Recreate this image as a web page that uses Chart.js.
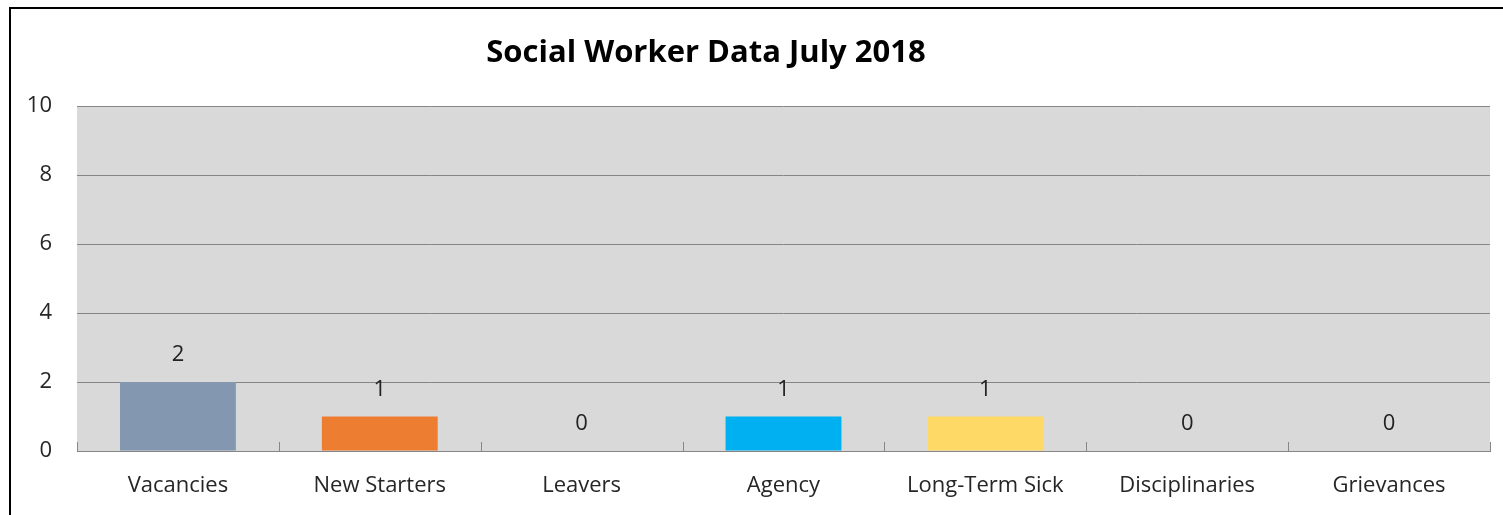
<!DOCTYPE html>
<html>
<head>
<meta charset="utf-8">
<script src="https://cdn.jsdelivr.net/npm/chart.js@4"></script>
<style>
    body { margin: 0; background: #fff; overflow: hidden; }
    #frame { position: absolute; left: 9px; top: 7px; width: 1600px; height: 600px; border-left: 2px solid #000; border-top: 2px solid #000; }
    #wrap { position: absolute; left: 0; top: 0; width: 1503px; height: 515px; }
</style>
</head>
<body>
<div id="frame"></div>
<div id="wrap"><canvas id="chart"></canvas></div>
<script>
const titulo = 'Social Worker Data July 2018';
const categorias = ['Vacancies', 'New Starters', 'Leavers', 'Agency', 'Long-Term Sick', 'Disciplinaries', 'Grievances'];
const valores = [2, 1, 0, 1, 1, 0, 0];
const colores = ['#8497B0', '#ED7D31', '#A5A5A5', '#00B0F0', '#FFD966', '#5B9BD5', '#70AD47'];
const ticksY = [0, 2, 4, 6, 8, 10];

const fuente = '"Open Sans", Lato, sans-serif';

// fondo gris del area de trazado
const fondoPlot = {
    id: 'fondoPlot',
    beforeDraw(chart) {
        const { ctx, chartArea: a } = chart;
        ctx.save();
        ctx.fillStyle = '#D9D9D9';
        ctx.fillRect(a.left, a.top, a.right - a.left, a.bottom - a.top);
        ctx.restore();
    }
};

// titulo, marcas del eje x y etiquetas de datos
const extras = {
    id: 'extras',
    afterDraw(chart) {
        const { ctx, chartArea: a } = chart;
        const x = chart.scales.x;
        ctx.save();
        ctx.fillStyle = '#000';
        ctx.font = 'bold 31px ' + fuente;
        ctx.textAlign = 'center';
        ctx.textBaseline = 'middle';
        ctx.fillText(titulo, 706, 53);

        ctx.strokeStyle = '#868686';
        ctx.lineWidth = 1;
        const n = categorias.length;
        const paso = (x.right - x.left) / n;
        for (let i = 0; i <= n; i++) {
            const px = Math.round(x.left + i * paso) + 0.5;
            ctx.beginPath();
            ctx.moveTo(px, a.bottom - 9);
            ctx.lineTo(px, a.bottom);
            ctx.stroke();
        }

        ctx.fillStyle = '#222';
        ctx.font = '22px ' + fuente;
        const meta = chart.getDatasetMeta(0);
        meta.data.forEach((bar, i) => {
            ctx.fillText(String(valores[i]), bar.x, bar.y - 27);
        });
        ctx.restore();
    }
};

new Chart(document.getElementById('chart'), {
    type: 'bar',
    data: {
        labels: categorias,
        datasets: [{
            data: valores,
            backgroundColor: colores,
            borderWidth: 0,
            barPercentage: 0.574,
            categoryPercentage: 1
        }]
    },
    options: {
        responsive: true,
        maintainAspectRatio: false,
        animation: false,
        layout: { padding: { top: 106, right: 13, left: 0, bottom: 0 } },
        plugins: {
            legend: { display: false },
            tooltip: { enabled: false },
            title: { display: false }
        },
        scales: {
            x: {
                grid: { display: false },
                border: { display: true, color: '#868686', width: 1 },
                ticks: { color: '#262626', font: { family: fuente, size: 22 }, padding: 14 },
                afterFit(scale) { scale.height = 64; }
            },
            y: {
                min: 0,
                max: 10,
                afterBuildTicks(scale) { scale.ticks = ticksY.map(v => ({ value: v })); },
                grid: { color: '#868686', drawTicks: false },
                border: { display: false },
                ticks: { color: '#262626', font: { family: fuente, size: 22 }, padding: 25 },
                afterFit(scale) { scale.width = 77; }
            }
        }
    },
    plugins: [fondoPlot, extras]
});
</script>
</body>
</html>
